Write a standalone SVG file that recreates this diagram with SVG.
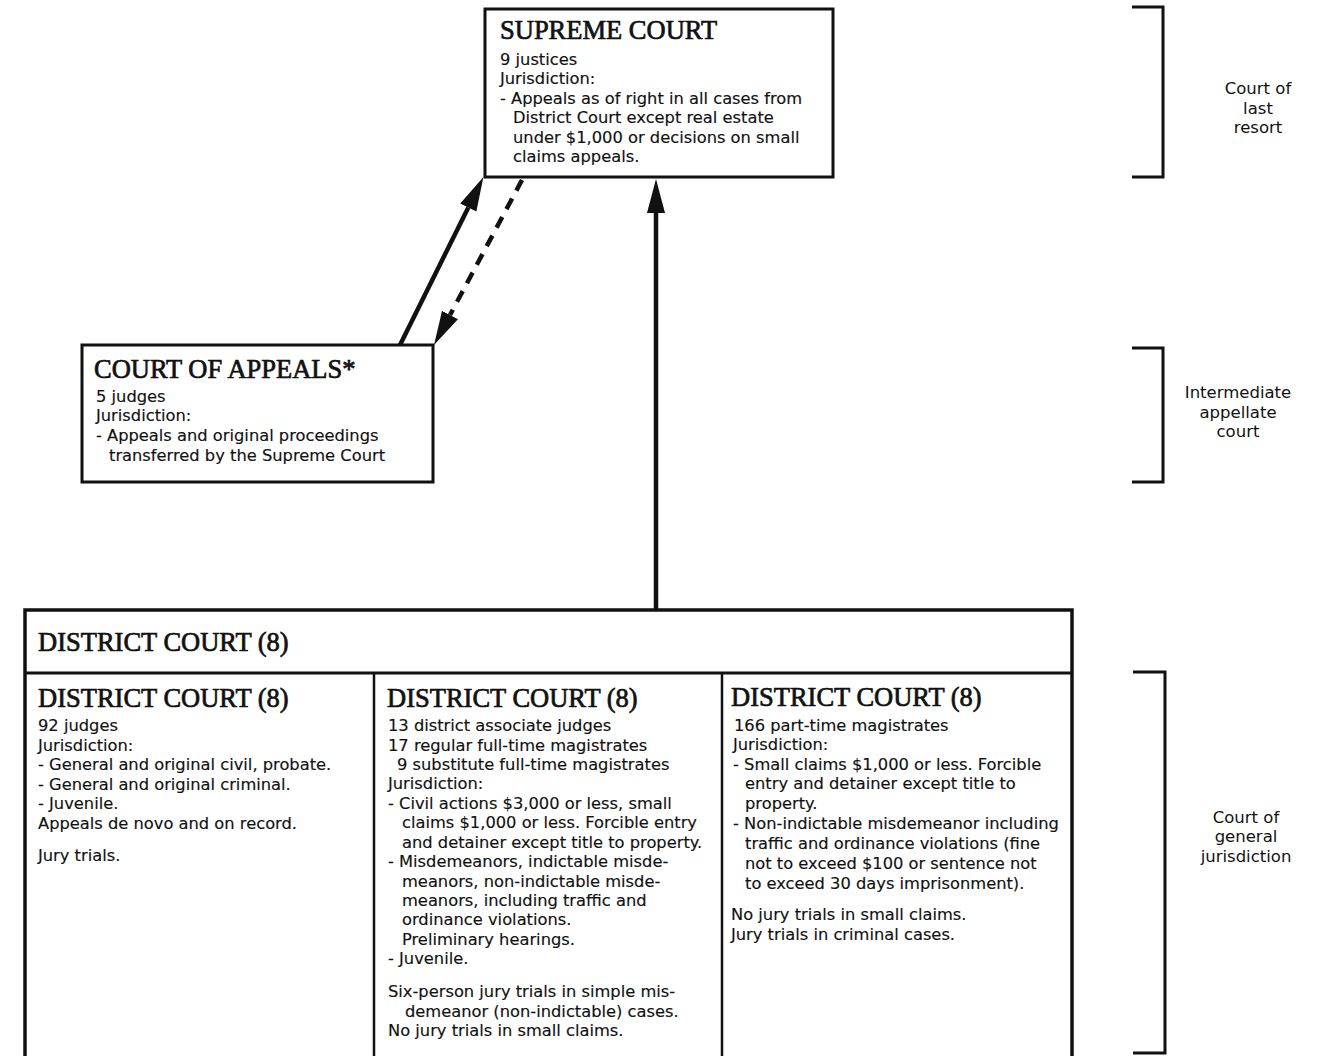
<svg xmlns="http://www.w3.org/2000/svg" width="1328" height="1056" viewBox="0 0 1328 1056">
<style>
.box{fill:#fff;stroke:#111;stroke-width:3}
.div{stroke:#111;stroke-width:2.5;fill:none}
.title{font-family:"Liberation Serif","Times New Roman",serif;font-size:26.5px;fill:#111;stroke:#111;stroke-width:0.7}
.t{font-family:"DejaVu Sans","Liberation Sans",sans-serif;font-size:16.3px;fill:#111;stroke:#111;stroke-width:0.15}
.lab{font-family:"DejaVu Sans","Liberation Sans",sans-serif;font-size:16.5px;fill:#111;text-anchor:middle}
.br{fill:none;stroke:#111;stroke-width:3}
.conn{stroke:#111;stroke-width:4.5;fill:none}
</style>
<defs>
<marker id="ah" viewBox="0 0 34 20" refX="0" refY="10" markerWidth="34" markerHeight="20" markerUnits="userSpaceOnUse" orient="auto">
<path d="M0,1 L34,10 L0,19 Z" fill="#111"/>
</marker>
</defs>
<rect width="1328" height="1056" fill="#fff"/>

<g id="connectors">
<line class="conn" x1="656" y1="610" x2="656" y2="213" marker-end="url(#ah)"/>
<line class="conn" x1="400" y1="345" x2="468.3" y2="207.5" marker-end="url(#ah)"/>
<line class="conn" x1="522" y1="180" x2="450" y2="315" stroke-dasharray="12 9" marker-end="url(#ah)"/>
</g>

<g id="supreme-court">
<rect class="box" x="485" y="9" width="348" height="168"/>
<text class="title" x="500" y="39">SUPREME COURT</text>
<text class="t" x="500" y="65">9 justices</text>
<text class="t" x="500" y="84">Jurisdiction:</text>
<text class="t" x="500" y="104">- Appeals as of right in all cases from</text>
<text class="t" x="513" y="123">District Court except real estate</text>
<text class="t" x="513" y="143">under $1,000 or decisions on small</text>
<text class="t" x="513" y="162">claims appeals.</text>
</g>

<g id="court-of-appeals">
<rect class="box" x="82" y="345" width="351" height="137"/>
<text class="title" x="94" y="378">COURT OF APPEALS*</text>
<text class="t" x="96" y="402">5 judges</text>
<text class="t" x="96" y="421">Jurisdiction:</text>
<text class="t" x="96" y="441">- Appeals and original proceedings</text>
<text class="t" x="109" y="461">transferred by the Supreme Court</text>
</g>

<g id="district-court">
<rect class="box" x="25" y="610" width="1047" height="470" style="stroke-width:3.5"/>
<line class="div" x1="25" y1="673" x2="1072" y2="673" style="stroke-width:3"/>
<line class="div" x1="374" y1="673" x2="374" y2="1056"/>
<line class="div" x1="722" y1="673" x2="722" y2="1056"/>
<text class="title" x="38" y="651">DISTRICT COURT (8)</text>
</g>

<g id="district-court-1">
<text class="title" x="38" y="707">DISTRICT COURT (8)</text>
<text class="t" x="38" y="731">92 judges</text>
<text class="t" x="38" y="751">Jurisdiction:</text>
<text class="t" x="38" y="770">- General and original civil, probate.</text>
<text class="t" x="38" y="790">- General and original criminal.</text>
<text class="t" x="38" y="809">- Juvenile.</text>
<text class="t" x="38" y="829">Appeals de novo and on record.</text>
<text class="t" x="38" y="861">Jury trials.</text>
</g>

<g id="district-court-2">
<text class="title" x="387" y="707">DISTRICT COURT (8)</text>
<text class="t" x="388" y="731">13 district associate judges</text>
<text class="t" x="388" y="751">17 regular full-time magistrates</text>
<text class="t" x="397" y="770">9 substitute full-time magistrates</text>
<text class="t" x="388" y="789">Jurisdiction:</text>
<text class="t" x="388" y="809">- Civil actions $3,000 or less, small</text>
<text class="t" x="402" y="828">claims $1,000 or less. Forcible entry</text>
<text class="t" x="402" y="848">and detainer except title to property.</text>
<text class="t" x="388" y="867">- Misdemeanors, indictable misde-</text>
<text class="t" x="402" y="887">meanors, non-indictable misde-</text>
<text class="t" x="402" y="906">meanors, including traffic and</text>
<text class="t" x="402" y="925">ordinance violations.</text>
<text class="t" x="402" y="945">Preliminary hearings.</text>
<text class="t" x="388" y="964">- Juvenile.</text>
<text class="t" x="388" y="997">Six-person jury trials in simple mis-</text>
<text class="t" x="405" y="1017">demeanor (non-indictable) cases.</text>
<text class="t" x="388" y="1036">No jury trials in small claims.</text>
</g>

<g id="district-court-3">
<text class="title" x="731" y="706">DISTRICT COURT (8)</text>
<text class="t" x="734" y="731">166 part-time magistrates</text>
<text class="t" x="733" y="750">Jurisdiction:</text>
<text class="t" x="733" y="770">- Small claims $1,000 or less. Forcible</text>
<text class="t" x="745" y="789">entry and detainer except title to</text>
<text class="t" x="745" y="809">property.</text>
<text class="t" x="733" y="829">- Non-indictable misdemeanor including</text>
<text class="t" x="745" y="849">traffic and ordinance violations (fine</text>
<text class="t" x="745" y="869">not to exceed $100 or sentence not</text>
<text class="t" x="745" y="889">to exceed 30 days imprisonment).</text>
<text class="t" x="731" y="920">No jury trials in small claims.</text>
<text class="t" x="731" y="940">Jury trials in criminal cases.</text>
</g>

<g id="level-last-resort">
<polyline class="br" points="1132,7 1163,7 1163,177 1132,177"/>
<text class="lab" x="1258" y="94">Court of</text>
<text class="lab" x="1258" y="114">last</text>
<text class="lab" x="1258" y="133">resort</text>
</g>

<g id="level-intermediate">
<polyline class="br" points="1132,348 1163,348 1163,482 1132,482"/>
<text class="lab" x="1238" y="398">Intermediate</text>
<text class="lab" x="1238" y="418">appellate</text>
<text class="lab" x="1238" y="437">court</text>
</g>

<g id="level-general">
<polyline class="br" points="1133,672 1165,672 1165,1053 1133,1053"/>
<text class="lab" x="1246" y="823">Court of</text>
<text class="lab" x="1246" y="842">general</text>
<text class="lab" x="1246" y="862">jurisdiction</text>
</g>
</svg>
